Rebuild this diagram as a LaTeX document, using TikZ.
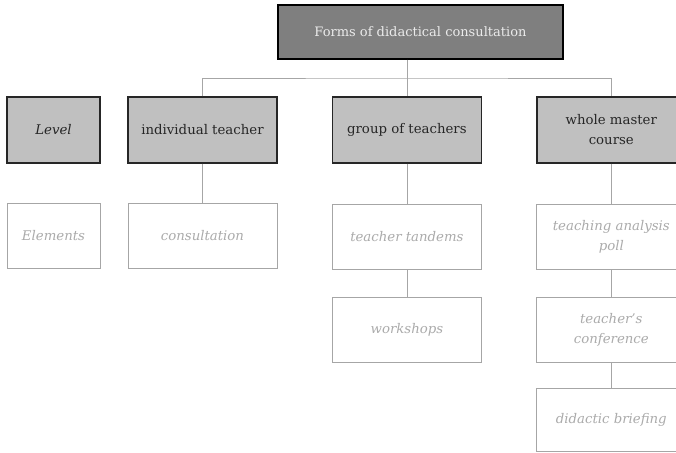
\documentclass[tikz,border=0pt]{standalone}
\usepackage{fontspec}
\setmainfont{DejaVu Serif}
\usepackage{tikz}
\usetikzlibrary{positioning,calc}
\definecolor{headgray}{HTML}{7F7F7F}
\definecolor{levelgray}{HTML}{C0C0C0}
\definecolor{linegray}{HTML}{A6A6A6}
\definecolor{textgray}{HTML}{ABABAB}
\tikzset{
  rootbox/.style={
    draw=black,
    fill=headgray,
    line width=1.4pt,
    minimum width=285pt,
    minimum height=54pt,
    align=center,
    text=black!8,
    font=\fontsize{13}{20}\selectfont
  },
  levelbox/.style={
    draw=black!85,
    fill=levelgray,
    line width=1.4pt,
    minimum width=149pt,
    minimum height=66pt,
    align=center,
    text=black!85,
    font=\fontsize{13.3}{20}\selectfont
  },
  elembox/.style={
    draw=linegray,
    fill=white,
    thick,
    minimum width=149pt,
    minimum height=65pt,
    align=center,
    text=textgray,
    font=\fontsize{13.3}{20}\selectfont\itshape
  },
  link/.style={
    draw=linegray,
    thick
  }
}

\begin{document}
\begin{tikzpicture}[x=1pt,y=-1pt,node distance=27pt and 54pt]
\useasboundingbox (0,0) rectangle (676,452);
\clip (0,0) rectangle (676,452);
% top of the tree
\node[rootbox] (forms) at (420.5,32) {Forms of didactical consultation};
% first row: the levels
\node[levelbox, minimum width=93pt] (level) at (53.5,130) {\itshape Level};
\node[levelbox] (indiv) at (202.5,130) {individual teacher};
\node[levelbox, right=of indiv] (group) {group of teachers};
\node[levelbox, right=of group] (whole) {whole master\\course};
% the elements
\node[elembox, minimum width=93pt] (elements) at (53.5,235.5) {Elements};
\node[elembox] (consult) at (202.5,235.5) {consultation};
\node[elembox, below=40pt of group] (tandems) {teacher tandems};
\node[elembox, below=of tandems] (workshops) {workshops};
\node[elembox, below=40pt of whole] (tap) {teaching analysis\\poll};
\node[elembox, below=of tap] (conference) {teacher's\\conference};
\node[elembox, below=26pt of conference, minimum height=63pt] (briefing) {didactic briefing};
% connectors
\coordinate (hub) at ($(forms.south -| group)!0.5!(group.north)$);
\draw[link] (forms.south -| group) -- (group.north);
\draw[link] (indiv.north) |- (hub) -| (whole.north);
\draw[link] (indiv) -- (consult);
\draw[link] (group) -- (tandems);
\draw[link] (tandems) -- (workshops);
\draw[link] (whole) -- (tap);
\draw[link] (tap) -- (conference);
\draw[link] (conference) -- (briefing);
\end{tikzpicture}
\end{document}
